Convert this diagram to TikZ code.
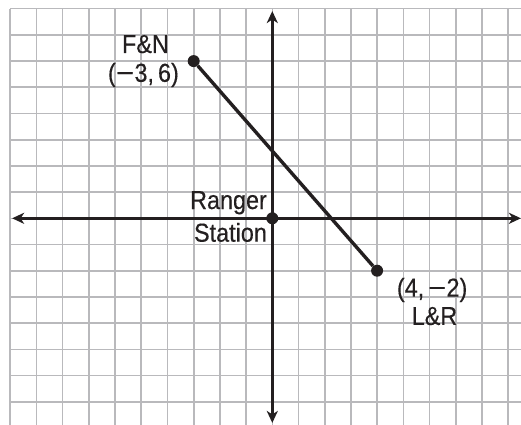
\documentclass[tikz,border=0pt]{standalone}
\usepackage{fontspec}
\setmainfont{Liberation Sans}
\newfontfamily\lblfont[FakeStretch=0.9,FakeBold=0.3]{Liberation Sans}
\usetikzlibrary{arrows.meta}
\definecolor{gridgray}{RGB}{185,185,188}
\definecolor{ink}{RGB}{35,31,32}
\tikzset{
  gridline/.style={draw=gridgray, line width=1.6pt},
  axisline/.style={draw=ink, line width=2.8pt, {Stealth[length=12pt,width=11pt,inset=3.5pt]}-{Stealth[length=12pt,width=11pt,inset=3.5pt]}},
  segline/.style={draw=ink, line width=3.4pt},
  dot/.style={circle, fill=ink, draw=none, minimum size=12pt, inner sep=0pt},
  lbl/.style={font=\lblfont\fontsize{26pt}{30pt}\selectfont, text=ink, inner sep=0pt}
}
\begin{document}
\begin{tikzpicture}[x=26.2pt,y=26.2pt]
\useasboundingbox (-10.393,-7.851) rectangle (9.492,8.332);
\fill[white] (-10.393,-7.851) rectangle (9.492,8.332);
% grid
\foreach \x in {-10,...,9} \draw[gridline] (\x,8) -- (\x,-7.9);
\foreach \y in {-7,...,8} \draw[gridline] (-10,\y) -- (9.55,\y);
% axes
\coordinate (xl) at (-9.93,0);
\coordinate (xr) at (9.49,0);
\coordinate (yt) at (0,7.91);
\coordinate (yb) at (0,-7.81);
\draw[axisline] (xl) -- (xr);
\draw[axisline] (yt) -- (yb);
% points
\node[dot] (fn) at (-3,6) {};
\node[dot] (lr) at (4,-2) {};
\node[dot] (rs) at (0,0) {};
\draw[segline] (fn) -- (lr);
% labels
\node[lbl, anchor=base] (fnname) at (-4.84,6.31) {F\&N};
\node[lbl, anchor=base] (fncoord) at (-4.92,5.21) {(\kern0.5pt\scalebox{1.3}[1]{−}\kern0.5pt3,\kern4pt 6)};
\node[lbl, anchor=base east] (ranger) at (-0.20,0.355) {Ranger};
\node[lbl, anchor=base east] (station) at (-0.20,-0.893) {Station};
\node[lbl, anchor=base] (lrcoord) at (6.10,-2.99) {(4,\kern4pt \scalebox{1.3}[1]{−}\kern0.5pt2)};
\node[lbl, anchor=base] (lrname) at (6.19,-4.07) {L\&R};
\end{tikzpicture}
\end{document}
